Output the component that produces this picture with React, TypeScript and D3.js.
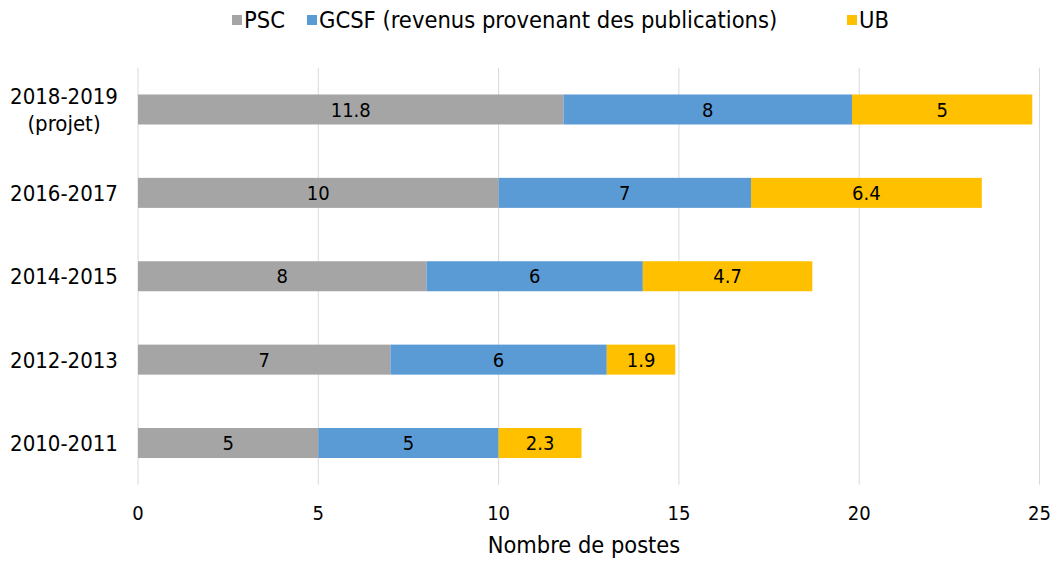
import React from "react";
import * as d3 from "d3";

const categories = ["2018-2019|(projet)", "2016-2017", "2014-2015", "2012-2013", "2010-2011"];
const psc = [11.8, 10, 8, 7, 5];
const gcsf = [8, 7, 6, 6, 5];
const ub = [5, 6.4, 4.7, 1.9, 2.3];
const seriesNames = ["PSC", "GCSF (revenus provenant des publications)", "UB"];
const seriesColors = ["#A5A5A5", "#5B9BD5", "#FFC000"];
const xTicks = [0, 5, 10, 15, 20, 25];

const W = 1054, H = 561;
const FONT = "'DejaVu Sans Condensed', 'DejaVu Sans', sans-serif";

export default function App() {
  const x = d3.scaleLinear().domain([0, 25]).range([138, 1039.5]);
  const y = d3.scaleBand().domain(categories).range([67.8, 484.7]).paddingInner(0.64).paddingOuter(0.32);
  const rows = categories.map((c, i) => ({ cat: c, PSC: psc[i], GCSF: gcsf[i], UB: ub[i] }));
  const stack = d3.stack<any>().keys(["PSC", "GCSF", "UB"])(rows);
  const legendTextX = [244, 319, 859];
  return (
    <div style={{ position: "fixed", left: 0, top: 0, width: W, height: H, overflow: "hidden" }}>
      <svg width={W} height={H} style={{ display: "block", fontFamily: FONT, fontStretch: "condensed" }}>
        <rect width={W} height={H} fill="#fff" />
        {xTicks.map((t) => (
          <line key={t} x1={x(t)} x2={x(t)} y1={67.8} y2={484.7} stroke="#D9D9D9" strokeWidth={1} />
        ))}
        {stack.map((s, si) =>
          s.map((d, i) => {
            const x0 = x(d[0]), x1 = x(d[1]);
            const yy = y(categories[i])!;
            const val = d[1] - d[0];
            return (
              <g key={si + "-" + i}>
                <rect x={x0} y={yy} width={x1 - x0} height={y.bandwidth()} fill={seriesColors[si]} />
                <text x={(x0 + x1) / 2} y={yy + y.bandwidth() / 2} dy="0.36em" textAnchor="middle" fontSize={20} fill="#000">
                  {d3.format("~g")(+val.toFixed(1))}
                </text>
              </g>
            );
          })
        )}
        {categories.map((c) => {
          const parts = c.split("|");
          const cy = y(c)! + y.bandwidth() / 2;
          const lh = 27;
          return (
            <text key={c} x={64} textAnchor="middle" fontSize={22} fill="#000">
              {parts.map((p, k) => (
                <tspan key={k} x={64} y={cy - ((parts.length - 1) * lh) / 2 + k * lh} dy="0.36em">
                  {p}
                </tspan>
              ))}
            </text>
          );
        })}
        {xTicks.map((t) => (
          <text key={t} x={x(t)} y={513} dy="0.36em" textAnchor="middle" fontSize={20} fill="#000">
            {t}
          </text>
        ))}
        <text x={584} y={553} textAnchor="middle" fontSize={23.4} fill="#000">
          Nombre de postes
        </text>
        {seriesNames.map((n, i) => (
          <g key={n}>
            <rect x={legendTextX[i] - 12} y={15} width={10} height={10} fill={seriesColors[i]} />
            <text x={legendTextX[i]} y={20} dy="0.36em" fontSize={23.5} fill="#000">
              {n}
            </text>
          </g>
        ))}
      </svg>
    </div>
  );
}
